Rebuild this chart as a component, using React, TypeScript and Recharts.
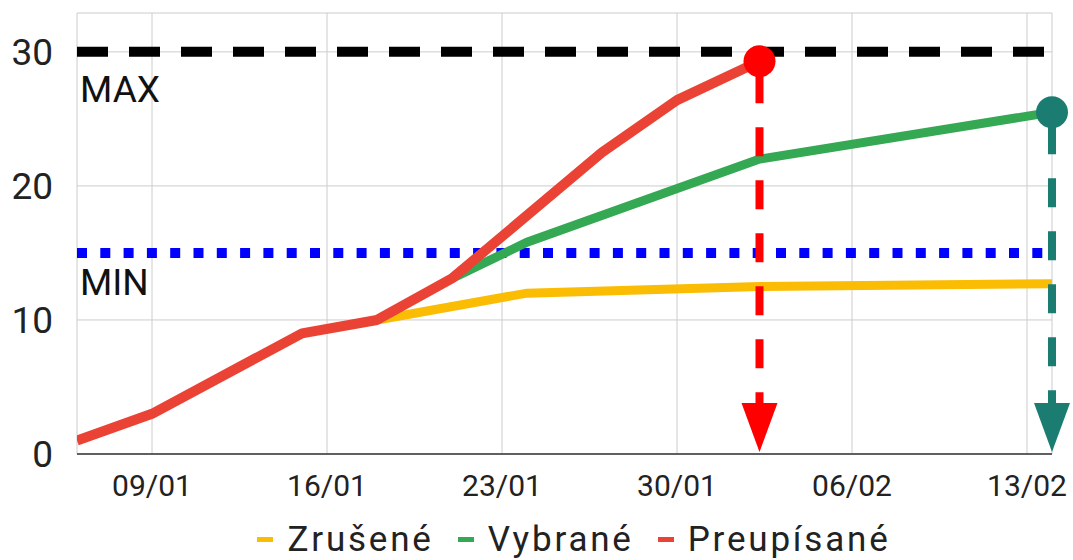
import React from "react";
import {
    LineChart,
    Line,
    XAxis,
    YAxis,
    CartesianGrid,
    ReferenceLine,
    ReferenceDot,
    Legend,
} from "recharts";

// day 0 = 06/01
const tickDays = [3, 10, 17, 24, 31, 38];
const tickLabels = ["09/01", "16/01", "23/01", "30/01", "06/02", "13/02"];
const yTicks = [0, 10, 20, 30];

const yellowDays = [12, 18, 27.3, 39];
const yellowValues = [10, 12, 12.5, 12.7];

const greenDays = [15, 18, 27.3, 39];
const greenValues = [13.1, 15.8, 22, 25.5];

const redDays = [0, 3, 9, 12, 15, 21, 24, 27.3];
const redValues = [1, 3, 9, 10, 13.1, 22.5, 26.4, 29.3];

const MAX_VALUE = 30;
const MIN_VALUE = 15;

const YELLOW = "#fbbc04";
const GREEN = "#34a853";
const RED = "#ea4335";
const ARROW_RED = "#ff0000";
const TEAL = "#1b7d71";
const FONT = "Roboto, sans-serif";

const legendItems = [
    { name: "Zrušené", color: YELLOW },
    { name: "Vybrané", color: GREEN },
    { name: "Preupísané", color: RED },
];

const toSeries = (days: number[], values: number[]) =>
    days.map((day, i) => ({ day, value: values[i] }));

const yellowData = toSeries(yellowDays, yellowValues);
const greenData = toSeries(greenDays, greenValues);
const redData = toSeries(redDays, redValues);

const redEnd = redData[redData.length - 1];
const greenEnd = greenData[greenData.length - 1];

const formatDay = (d: number) => tickLabels[tickDays.indexOf(d)] ?? "";

const limitShape = (text: string, color: string, dash: string, labelDy: number) =>
    (p: any) => (
        <g>
            <line
                x1={p.x1}
                y1={p.y1}
                x2={p.x2}
                y2={p.y2}
                stroke={color}
                strokeWidth={10}
                strokeDasharray={dash}
            />
            <text x={p.x1 + 3} y={p.y1 + labelDy} fontSize={37} fontFamily={FONT} fill="#111">
                {text}
            </text>
        </g>
    );

const arrowShape = (color: string) => (p: any) => {
    const { x1, y1, y2 } = p;
    const top = Math.min(y1, y2);
    const bottom = Math.max(y1, y2);
    return (
        <g>
            <line
                x1={x1}
                y1={top + 13}
                x2={x1}
                y2={bottom - 20}
                stroke={color}
                strokeWidth={8}
                strokeDasharray="29 24"
            />
            <polygon
                points={`${x1 - 18},${bottom - 51} ${x1 + 18},${bottom - 51} ${x1},${bottom - 2}`}
                fill={color}
            />
        </g>
    );
};

const LegendContent = () => (
    <div
        style={{
            display: "flex",
            justifyContent: "center",
            alignItems: "flex-start",
            paddingLeft: 99,
            paddingTop: 12,
            height: 50,
            boxSizing: "border-box",
            overflow: "visible",
            fontFamily: FONT,
        }}
    >
        {legendItems.map((item) => (
            <div
                key={item.name}
                style={{ display: "flex", alignItems: "center", marginRight: 24, lineHeight: "35px" }}
            >
                <span
                    style={{
                        display: "inline-block",
                        width: 16,
                        height: 5,
                        background: item.color,
                        marginRight: 14,
                    }}
                />
                <span style={{ fontSize: 35, color: "#222", letterSpacing: 2.8 }}>{item.name}</span>
            </div>
        ))}
    </div>
);

export default function App() {
    return (
        <div style={{ position: "absolute", left: 0, top: 0, width: 1073, height: 560, background: "#fff" }}>
            <LineChart width={1073} height={560} margin={{ top: 13, right: 21, left: 0, bottom: 0 }}>
                <CartesianGrid stroke="#cccccc" strokeWidth={1} />
                <XAxis
                    dataKey="day"
                    type="number"
                    domain={[0, 39]}
                    ticks={tickDays}
                    tickFormatter={formatDay}
                    allowDataOverflow
                    height={56}
                    tickLine={false}
                    tickSize={0}
                    tickMargin={21}
                    axisLine={{ stroke: "#333", strokeWidth: 1.5 }}
                    tick={{ fontSize: 30, fill: "#222", fontFamily: FONT }}
                />
                <YAxis
                    type="number"
                    domain={[0, 32.9]}
                    ticks={yTicks}
                    allowDataOverflow
                    width={77}
                    axisLine={false}
                    tickLine={false}
                    tickSize={0}
                    tickMargin={24}
                    tick={{ fontSize: 37, fill: "#222", fontFamily: FONT }}
                />
                <Legend verticalAlign="bottom" height={50} wrapperStyle={{ left: 0, width: 1073 }} content={<LegendContent />} />
                <ReferenceLine
                    y={MAX_VALUE}
                    zIndex={350}
                    shape={limitShape("MAX", "#000", "31 21", 50)}
                />
                <ReferenceLine
                    y={MIN_VALUE}
                    zIndex={350}
                    shape={limitShape("MIN", "#0000ff", "10 13.3", 42)}
                />
                <Line
                    data={yellowData}
                    dataKey="value"
                    name="Zrušené"
                    type="linear"
                    stroke={YELLOW}
                    strokeWidth={9}
                    dot={false}
                    activeDot={false}
                    isAnimationActive={false}
                />
                <Line
                    data={greenData}
                    dataKey="value"
                    name="Vybrané"
                    type="linear"
                    stroke={GREEN}
                    strokeWidth={9}
                    dot={false}
                    activeDot={false}
                    isAnimationActive={false}
                />
                <Line
                    data={redData}
                    dataKey="value"
                    name="Preupísané"
                    type="linear"
                    stroke={RED}
                    strokeWidth={10}
                    strokeLinejoin="round"
                    dot={false}
                    activeDot={false}
                    isAnimationActive={false}
                />
                <ReferenceLine
                    zIndex={450}
                    ifOverflow="visible"
                    segment={[{ x: redEnd.day, y: redEnd.value }, { x: redEnd.day, y: 0 }]}
                    shape={arrowShape(ARROW_RED)}
                />
                <ReferenceLine
                    zIndex={450}
                    ifOverflow="visible"
                    segment={[{ x: greenEnd.day, y: greenEnd.value }, { x: greenEnd.day, y: 0 }]}
                    shape={arrowShape(TEAL)}
                />
                <ReferenceDot x={redEnd.day} y={redEnd.value} r={16} fill={ARROW_RED} stroke="none" zIndex={460} ifOverflow="visible" />
                <ReferenceDot x={greenEnd.day} y={greenEnd.value} r={16} fill={TEAL} stroke="none" zIndex={460} ifOverflow="visible" />
            </LineChart>
        </div>
    );
}
